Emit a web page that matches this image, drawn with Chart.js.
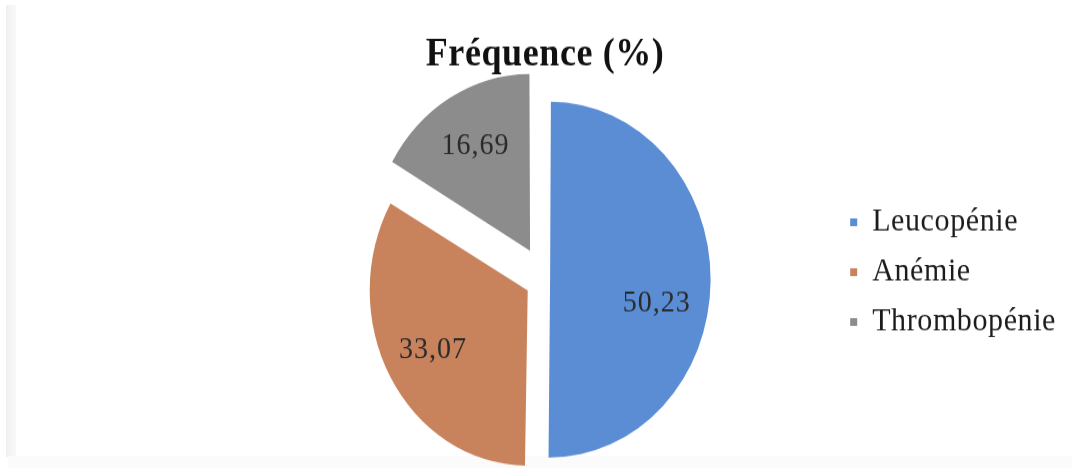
<!DOCTYPE html>
<html>
<head>
<meta charset="utf-8">
<script src="https://cdn.jsdelivr.net/npm/chart.js@4/dist/chart.umd.min.js"></script>
<style>
  html, body { margin: 0; padding: 0; background: #fff; }
  #frame { position: relative; width: 1072px; height: 470px; overflow: hidden; background: #fff; }
  /* the figure is drawn on a 1072x424 canvas and stretched vertically */
  #stretch { position: absolute; left: 0; top: 0; width: 1072px; height: 424px;
             transform: scaleY(1.1085); transform-origin: 0 0; }
  .edge-left { position: absolute; left: 6px; top: 5px; width: 10px; height: 452px;
               background: linear-gradient(to right, #f0f0f0, #f9f9f9); }
  .edge-bottom { position: absolute; left: 8px; top: 456px; width: 1064px; height: 12px;
                 background: #fbfbfb; }
</style>
</head>
<body>
<div id="frame">
  <div class="edge-left"></div>
  <div class="edge-bottom"></div>
  <div id="stretch"><canvas id="pie"></canvas></div>
</div>
<script>
// Fréquence des cytopénies (%)
const categories = ['Leucopénie', 'Anémie', 'Thrombopénie'];
const frequencies = [50.23, 33.07, 16.69];
const sliceColors = ['#5B8DD5', '#C9835C', '#8C8C8C'];
// how far each slice is pulled out of the pie
const sliceOffsets = [20, 80, 120];
// small angular shift (degrees) for each value label
const labelTurn = [11, 0, 0];

const SERIF = '"Liberation Serif", "Times New Roman", Times, serif';

const spacedText = {
  id: 'spacedText',
  beforeLayout(chart) { chart.ctx.letterSpacing = '0.6px'; },
  beforeDraw(chart) { chart.ctx.letterSpacing = '0.6px'; }
};

// value written inside each slice, comma as decimal separator
const sliceValues = {
  id: 'sliceValues',
  afterDatasetsDraw(chart) {
    const ctx = chart.ctx;
    const meta = chart.getDatasetMeta(0);
    ctx.save();
    ctx.font = '28px ' + SERIF;
    ctx.letterSpacing = '1px';
    ctx.fillStyle = '#2a2a2a';
    ctx.textAlign = 'center';
    ctx.textBaseline = 'middle';
    meta.data.forEach((arc, i) => {
      const half = (arc.startAngle + arc.endAngle) / 2;
      const shift = (arc.options.offset || 0) / 4;
      const cx = arc.x + Math.cos(half) * shift;
      const cy = arc.y + Math.sin(half) * shift;
      const a = half + labelTurn[i] * Math.PI / 180;
      const r = arc.outerRadius * 0.70;
      const text = frequencies[i].toFixed(2).replace('.', ',');
      ctx.fillText(text, cx + Math.cos(a) * r, cy + Math.sin(a) * r);
    });
    ctx.restore();
  }
};

new Chart(document.getElementById('pie'), {
  type: 'pie',
  data: {
    labels: categories,
    datasets: [{
      data: frequencies,
      backgroundColor: sliceColors,
      borderWidth: 0,
      offset: sliceOffsets,
      hoverOffset: 0,
      radius: 155.5
    }]
  },
  options: {
    responsive: true,
    maintainAspectRatio: false,
    animation: false,
    layout: { padding: { left: 255, right: 6, top: 0, bottom: 0 } },
    plugins: {
      tooltip: { enabled: false },
      title: {
        display: true,
        text: 'Fréquence (%)',
        fullSize: false,
        color: '#111',
        font: { family: SERIF, size: 36, weight: 'bold' },
        padding: { top: 28, bottom: 9 }
      },
      legend: {
        position: 'right',
        align: 'start',
        title: { display: true, text: '', padding: { top: 156, bottom: 0 } },
        labels: {
          color: '#1c1c1c',
          font: { family: SERIF, size: 30 },
          boxWidth: 7,
          boxHeight: 7,
          padding: 15
        }
      }
    }
  },
  plugins: [spacedText, sliceValues]
});
</script>
</body>
</html>
